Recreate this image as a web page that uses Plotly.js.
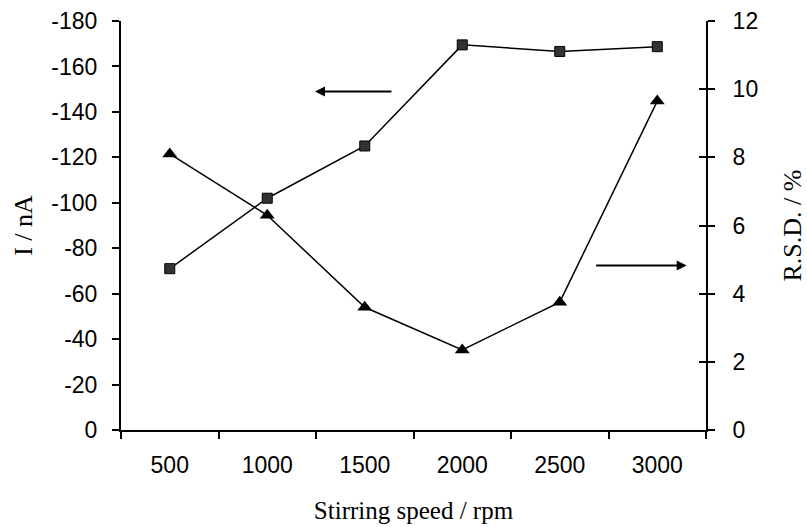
<!DOCTYPE html>
<html>
<head>
<meta charset="utf-8">
<script src="https://cdn.plot.ly/plotly-3.0.1.min.js"></script>
<style>html,body{margin:0;padding:0;background:#fff;}#chart{width:807px;height:527px;}</style>
</head>
<body>
<div id="chart"></div>
<script>
const categories = ['500', '1000', '1500', '2000', '2500', '3000'];
const currentValues = [-71, -102, -125, -169.5, -166.6, -168.7];
const rsdValues = [8.1, 6.3, 3.6, 2.35, 3.75, 9.65];
const leftTickVals = [0, -20, -40, -60, -80, -100, -120, -140, -160, -180];
const leftTickText = ['0', '-20', '-40', '-60', '-80', '-100', '-120', '-140', '-160', '-180'];
const rightTickVals = [0, 2, 4, 6, 8, 10, 12];
const rightTickText = ['0', '2', '4', '6', '8', '10', '12'];

const tickFont = {family: 'Liberation Sans, Arial, sans-serif', size: 23, color: '#000'};
const titleFont = {family: 'Liberation Serif, Times New Roman, serif', size: 26, color: '#000'};
const xTitleFont = {family: 'Liberation Serif, Times New Roman, serif', size: 25, color: '#000'};

const traces = [
  {
    x: categories, y: currentValues, type: 'scatter', mode: 'lines+markers',
    xaxis: 'x', yaxis: 'y',
    line: {color: '#000', width: 1.5},
    marker: {symbol: 'square', size: 10, color: '#333', line: {color: '#000', width: 1}},
    showlegend: false, cliponaxis: false
  },
  {
    x: categories, y: rsdValues, type: 'scatter', mode: 'lines+markers',
    xaxis: 'x', yaxis: 'y2',
    line: {color: '#000', width: 1.5},
    marker: {symbol: 'triangle-up', size: 13, color: '#000'},
    showlegend: false, cliponaxis: false
  }
];

const layout = {
  width: 807, height: 527,
  margin: {l: 121, r: 101, t: 21, b: 97},
  paper_bgcolor: '#fff', plot_bgcolor: '#fff',
  font: tickFont,
  xaxis: {
    type: 'category', tickson: 'boundaries',
    showline: true, linecolor: '#000', linewidth: 2,
    ticks: 'outside', ticklen: 7, tickwidth: 2, tickcolor: '#000',
    showgrid: false, zeroline: false, tickfont: tickFont,
    ticklabelstandoff: 13,
    title: {text: 'Stirring speed / rpm', font: xTitleFont, standoff: 25},
    range: [-0.5, 5.5]
  },
  yaxis: {
    range: [0, -180], tickvals: leftTickVals, ticktext: leftTickText,
    showline: true, linecolor: '#000', linewidth: 2,
    ticks: 'outside', ticklen: 7, tickwidth: 2, tickcolor: '#000',
    showgrid: false, zeroline: false, tickfont: tickFont,
    ticklabelstandoff: 10,
    title: {text: 'I / nA', font: titleFont, standoff: 11}
  },
  yaxis2: {
    range: [0, 12], tickvals: rightTickVals, ticktext: rightTickText,
    overlaying: 'y', side: 'right',
    showline: true, linecolor: '#000', linewidth: 2,
    ticks: 'outside', ticklen: 7, tickwidth: 2, tickcolor: '#000',
    showgrid: false, zeroline: false, tickfont: tickFont,
    ticklabelstandoff: 13,
    title: {text: 'R.S.D. / %', font: titleFont, standoff: 27}
  },
  yaxis3: {
    range: [0, 12], tickvals: rightTickVals, overlaying: 'y', side: 'right',
    showline: false, ticks: 'inside', ticklen: 7, tickwidth: 2, tickcolor: '#000',
    showticklabels: false, showgrid: false, zeroline: false
  },
  annotations: [
    {xref: 'paper', yref: 'paper', x: 0.3316, y: 0.8277, ax: 78, ay: 0,
     axref: 'pixel', ayref: 'pixel', text: '', showarrow: true,
     arrowhead: 2, arrowsize: 1, arrowwidth: 2, arrowcolor: '#000'},
    {xref: 'paper', yref: 'paper', x: 0.967, y: 0.402, ax: -92, ay: 0,
     axref: 'pixel', ayref: 'pixel', text: '', showarrow: true,
     arrowhead: 2, arrowsize: 1, arrowwidth: 2, arrowcolor: '#000'}
  ]
};

traces.push({x: categories, y: [null,null,null,null,null,null], yaxis: 'y3', xaxis: 'x', type: 'scatter', mode: 'lines', showlegend: false, hoverinfo: 'skip'});

Plotly.newPlot('chart', traces, layout, {displayModeBar: false, staticPlot: true});
</script>
</body>
</html>
